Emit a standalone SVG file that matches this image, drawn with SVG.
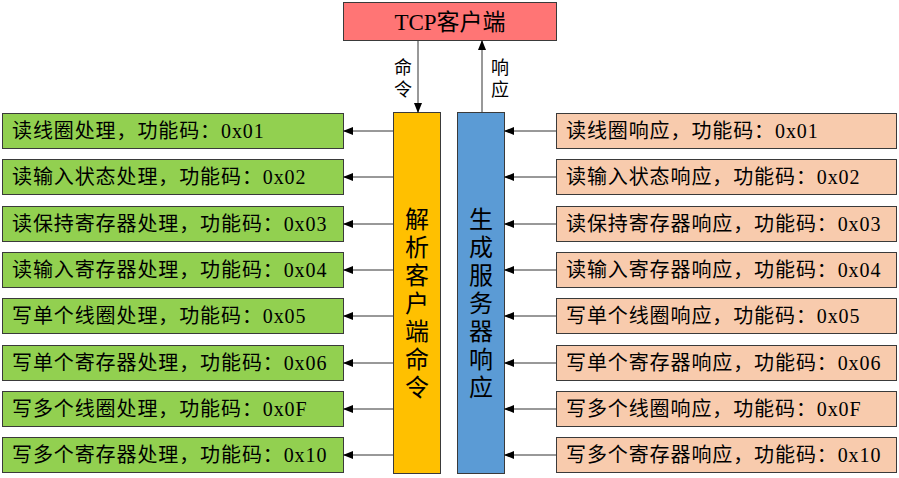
<svg xmlns="http://www.w3.org/2000/svg" width="899" height="478" viewBox="0 0 899 478">
<defs>
<marker id="ah" markerWidth="10" markerHeight="8" refX="9" refY="4" orient="auto" markerUnits="userSpaceOnUse"><path d="M0,0 L10,4 L0,8 Z" fill="#000"/></marker>
<style>
text{font-family:"Liberation Serif","Noto Sans CJK SC",serif;font-size:20px;fill:#000}
.t{letter-spacing:0.9px}
.l{fill:#92D050;stroke:#3a3a3a;stroke-width:1}
.r{fill:#F8CBAD;stroke:#3a3a3a;stroke-width:1}
.c line{stroke:#333;stroke-width:1;marker-end:url(#ah)}
text.v{font-size:24px;text-anchor:middle}
text.big{font-size:23px;text-anchor:middle}
text.lab{font-size:18px;text-anchor:middle}
</style>
</defs>
<rect width="899" height="478" fill="#fff"/>
<g id="tcp"><rect x="343.5" y="2.5" width="213" height="38" fill="#FF7575" stroke="#3a3a3a"/><text class="big" x="450" y="30">TCP客户端</text></g>
<g id="parse"><rect x="393.5" y="112.5" width="47" height="361" fill="#FFC000" stroke="#3a3a3a"/>
<text class="v" x="417" y="228">解</text><text class="v" x="417" y="256">析</text><text class="v" x="417" y="284">客</text><text class="v" x="417" y="312">户</text><text class="v" x="417" y="340">端</text><text class="v" x="417" y="368">命</text><text class="v" x="417" y="396">令</text></g>
<g id="gen"><rect x="457.5" y="112.5" width="47" height="361" fill="#5B9BD5" stroke="#3a3a3a"/>
<text class="v" x="481" y="228">生</text><text class="v" x="481" y="256">成</text><text class="v" x="481" y="284">服</text><text class="v" x="481" y="312">务</text><text class="v" x="481" y="340">器</text><text class="v" x="481" y="368">响</text><text class="v" x="481" y="396">应</text></g>
<g id="left" class="t">
<g id="L1"><rect class="l" x="2.5" y="113.5" width="341" height="35"/><text x="12" y="138">读线圈处理，功能码：0x01</text></g>
<g id="L2"><rect class="l" x="2.5" y="159.5" width="341" height="35"/><text x="12" y="184">读输入状态处理，功能码：0x02</text></g>
<g id="L3"><rect class="l" x="2.5" y="206.5" width="341" height="35"/><text x="12" y="231">读保持寄存器处理，功能码：0x03</text></g>
<g id="L4"><rect class="l" x="2.5" y="252.5" width="341" height="35"/><text x="12" y="277">读输入寄存器处理，功能码：0x04</text></g>
<g id="L5"><rect class="l" x="2.5" y="298.5" width="341" height="35"/><text x="12" y="323">写单个线圈处理，功能码：0x05</text></g>
<g id="L6"><rect class="l" x="2.5" y="345.5" width="341" height="35"/><text x="12" y="370">写单个寄存器处理，功能码：0x06</text></g>
<g id="L7"><rect class="l" x="2.5" y="391.5" width="341" height="35"/><text x="12" y="416">写多个线圈处理，功能码：0x0F</text></g>
<g id="L8"><rect class="l" x="2.5" y="437.5" width="341" height="35"/><text x="12" y="462">写多个寄存器处理，功能码：0x10</text></g>
</g>
<g id="right" class="t">
<g id="R1"><rect class="r" x="556.5" y="113.5" width="340" height="35"/><text x="566" y="138">读线圈响应，功能码：0x01</text></g>
<g id="R2"><rect class="r" x="556.5" y="159.5" width="340" height="35"/><text x="566" y="184">读输入状态响应，功能码：0x02</text></g>
<g id="R3"><rect class="r" x="556.5" y="206.5" width="340" height="35"/><text x="566" y="231">读保持寄存器响应，功能码：0x03</text></g>
<g id="R4"><rect class="r" x="556.5" y="252.5" width="340" height="35"/><text x="566" y="277">读输入寄存器响应，功能码：0x04</text></g>
<g id="R5"><rect class="r" x="556.5" y="298.5" width="340" height="35"/><text x="566" y="323">写单个线圈响应，功能码：0x05</text></g>
<g id="R6"><rect class="r" x="556.5" y="345.5" width="340" height="35"/><text x="566" y="370">写单个寄存器响应，功能码：0x06</text></g>
<g id="R7"><rect class="r" x="556.5" y="391.5" width="340" height="35"/><text x="566" y="416">写多个线圈响应，功能码：0x0F</text></g>
<g id="R8"><rect class="r" x="556.5" y="437.5" width="340" height="35"/><text x="566" y="462">写多个寄存器响应，功能码：0x10</text></g>
</g>
<g id="connectors" class="c">
<line x1="418" y1="41" x2="418" y2="112"/>
<line x1="482" y1="112" x2="482" y2="41"/>
<line x1="393" y1="131" x2="344" y2="131"/><line x1="393" y1="177" x2="344" y2="177"/><line x1="393" y1="224" x2="344" y2="224"/><line x1="393" y1="270" x2="344" y2="270"/><line x1="393" y1="316" x2="344" y2="316"/><line x1="393" y1="363" x2="344" y2="363"/><line x1="393" y1="409" x2="344" y2="409"/><line x1="393" y1="455" x2="344" y2="455"/>
<line x1="556" y1="131" x2="505" y2="131"/><line x1="556" y1="177" x2="505" y2="177"/><line x1="556" y1="224" x2="505" y2="224"/><line x1="556" y1="270" x2="505" y2="270"/><line x1="556" y1="316" x2="505" y2="316"/><line x1="556" y1="363" x2="505" y2="363"/><line x1="556" y1="409" x2="505" y2="409"/><line x1="556" y1="455" x2="505" y2="455"/>
</g>
<g id="labels">
<text class="lab" x="403" y="74">命</text><text class="lab" x="403" y="96">令</text>
<text class="lab" x="500" y="74">响</text><text class="lab" x="500" y="96">应</text>
</g>
</svg>
